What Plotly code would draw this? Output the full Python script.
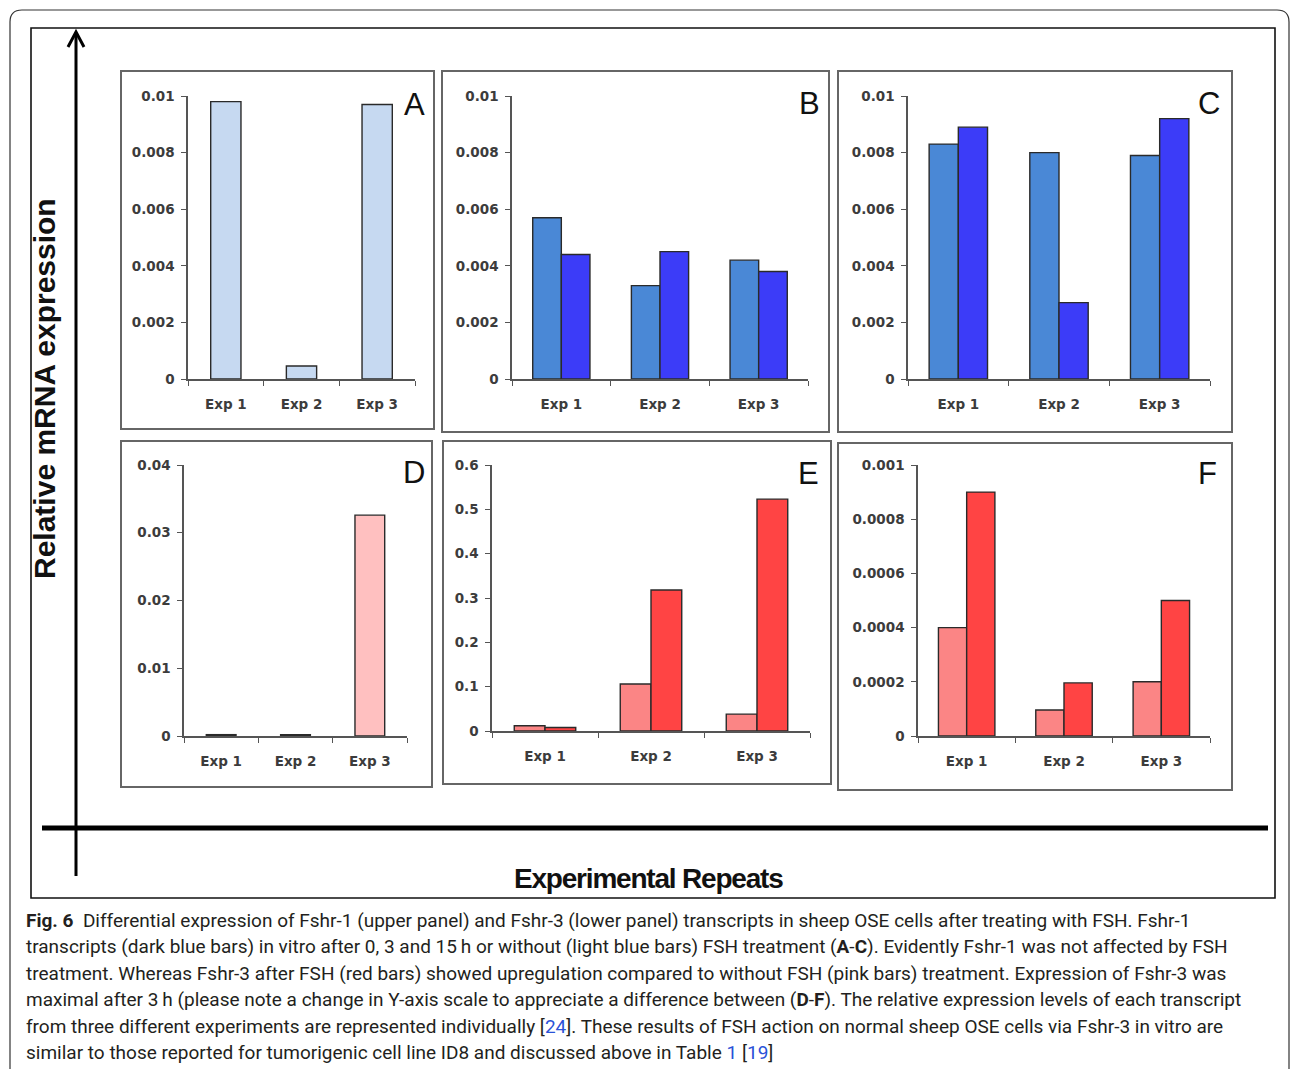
import plotly.graph_objects as go

W, H = 1290, 1069
# the page lays the figure out 8 px down with a 1053 px tall paper area
TOP_OFFSET = 8
PAPER_H = 1053

# ---- data -------------------------------------------------------------
experiments = ["Exp 1", "Exp 2", "Exp 3"]

# Fshr-1 (upper row)
a_without_fsh = [0.0098, 0.00046, 0.0097]
b_without_fsh = [0.0057, 0.0033, 0.0042]
b_with_fsh = [0.0044, 0.0045, 0.0038]
c_without_fsh = [0.0083, 0.0080, 0.0079]
c_with_fsh = [0.0089, 0.0027, 0.0092]

# Fshr-3 (lower row)
d_without_fsh = [0.0002, 0.0002, 0.0326]
e_without_fsh = [0.012, 0.106, 0.038]
e_with_fsh = [0.008, 0.318, 0.523]
f_without_fsh = [0.0004, 0.000096, 0.0002]
f_with_fsh = [0.0009, 0.000196, 0.0005]

ticks_upper = [0, 0.002, 0.004, 0.006, 0.008, 0.01]
ticks_upper_text = ["0", "0.002", "0.004", "0.006", "0.008", "0.01"]
ticks_d = [0, 0.01, 0.02, 0.03, 0.04]
ticks_d_text = ["0", "0.01", "0.02", "0.03", "0.04"]
ticks_e = [0, 0.1, 0.2, 0.3, 0.4, 0.5, 0.6]
ticks_e_text = ["0", "0.1", "0.2", "0.3", "0.4", "0.5", "0.6"]
ticks_f = [0, 0.0002, 0.0004, 0.0006, 0.0008, 0.001]
ticks_f_text = ["0", "0.0002", "0.0004", "0.0006", "0.0008", "0.001"]

panel_letters = ["A", "B", "C", "D", "E", "F"]

caption_lines = [
    "<b>Fig. 6</b>  Differential expression of Fshr-1 (upper panel) and Fshr-3 (lower panel) transcripts in sheep OSE cells after treating with FSH. Fshr-1",
    "transcripts (dark blue bars) in vitro after 0, 3 and 15\u2009h or without (light blue bars) FSH treatment (<b>A</b>-<b>C</b>). Evidently Fshr-1 was not affected by FSH",
    "treatment. Whereas Fshr-3 after FSH (red bars) showed upregulation compared to without FSH (pink bars) treatment. Expression of Fshr-3 was",
    "maximal after 3\u2009h (please note a change in Y-axis scale to appreciate a difference between (<b>D</b>-<b>F</b>). The relative expression levels of each transcript",
    "from three different experiments are represented individually [<span style='color:#2a52d8'>24</span>]. These results of FSH action on normal sheep OSE cells via Fshr-3 in vitro are",
    "similar to those reported for tumorigenic cell line ID8 and discussed above in Table <span style='color:#2a52d8'>1</span> [<span style='color:#2a52d8'>19</span>]",
]

# ---- styling ----------------------------------------------------------
LIGHT_BLUE_A = "#c6d9f1"
MID_BLUE = "#4a88d6"
DARK_BLUE = "#3c3cf8"
PINK_D = "#ffc0c0"
SALMON = "#fb8585"
RED = "#ff4444"
BAR_EDGE = "#2a2a2a"
AXIS_COL = "#555555"
TICK_FONT = dict(family="DejaVu Sans", size=13.5, color="#3c3c3c", weight="bold")


def px(x):
    return x / W


def py(y):
    return 1 - (y - TOP_OFFSET) / PAPER_H


# panel geometry: box (x0, y0, x1, y1), axes (xleft, xright, ybottom, ytop)
panels = [
    dict(box=(121, 71, 434, 429), ax=(188, 415, 379, 96), top=0.01,
         tv=ticks_upper, tt=ticks_upper_text, letter=(414, 105)),
    dict(box=(442, 71, 829, 432), ax=(512, 808, 379, 96), top=0.01,
         tv=ticks_upper, tt=ticks_upper_text, letter=(809, 103)),
    dict(box=(838, 71, 1232, 432), ax=(908, 1210, 379, 96), top=0.01,
         tv=ticks_upper, tt=ticks_upper_text, letter=(1209, 103)),
    dict(box=(121, 441, 432, 787), ax=(184, 407, 736, 465), top=0.04,
         tv=ticks_d, tt=ticks_d_text, letter=(414, 472)),
    dict(box=(443, 441, 831, 784), ax=(492, 810, 731, 465), top=0.6,
         tv=ticks_e, tt=ticks_e_text, letter=(808, 473)),
    dict(box=(838, 443, 1232, 790), ax=(918, 1210, 736, 465), top=0.001,
         tv=ticks_f, tt=ticks_f_text, letter=(1207, 473)),
]

# bars per panel: (values, colour, offset, width)
GW = 0.29
bars = [
    [(a_without_fsh, LIGHT_BLUE_A, -0.2, 0.4)],
    [(b_without_fsh, MID_BLUE, -GW, GW), (b_with_fsh, DARK_BLUE, 0, GW)],
    [(c_without_fsh, MID_BLUE, -GW, GW), (c_with_fsh, DARK_BLUE, 0, GW)],
    [(d_without_fsh, PINK_D, -0.2, 0.4)],
    [(e_without_fsh, SALMON, -GW, GW), (e_with_fsh, RED, 0, GW)],
    [(f_without_fsh, SALMON, -GW, GW), (f_with_fsh, RED, 0, GW)],
]

fig = go.Figure()
layout_axes = {}
shapes = []
annotations = []

for i, (p, series) in enumerate(zip(panels, bars), start=1):
    sfx = "" if i == 1 else str(i)
    xl, xr, yb, yt = p["ax"]
    for vals, col, off, wd in series:
        fig.add_trace(go.Bar(
            x=experiments, y=vals, xaxis="x" + sfx, yaxis="y" + sfx,
            marker=dict(color=col, line=dict(color=BAR_EDGE, width=1.4)),
            offset=off, width=wd, showlegend=False, hoverinfo="skip",
        ))
    layout_axes["xaxis" + sfx] = dict(
        domain=[px(xl), px(xr)], anchor="y" + sfx, type="category",
        categoryorder="array", categoryarray=experiments, range=[-0.5, 2.5],
        showline=True, linecolor=AXIS_COL, linewidth=1.5,
        ticks="outside", tickson="boundaries", ticklen=5, tickwidth=1.3,
        tickcolor=AXIS_COL, showgrid=False, zeroline=False,
        tickfont=TICK_FONT, ticklabelstandoff=12,
    )
    layout_axes["yaxis" + sfx] = dict(
        domain=[py(yb), py(yt)], anchor="x" + sfx, range=[0, p["top"]],
        tickvals=p["tv"], ticktext=p["tt"],
        showline=True, linecolor=AXIS_COL, linewidth=1.5,
        ticks="outside", ticklen=5, tickwidth=1.3, tickcolor=AXIS_COL,
        showgrid=False, zeroline=False, tickfont=TICK_FONT,
        ticklabelstandoff=4,
    )
    bx0, by0, bx1, by1 = p["box"]
    shapes.append(dict(type="rect", xref="paper", yref="paper",
                       x0=px(bx0), x1=px(bx1), y0=py(by1), y1=py(by0),
                       line=dict(color="#666666", width=2), layer="below"))
    lx, ly = p["letter"]
    annotations.append(dict(text=panel_letters[i - 1], xref="paper", yref="paper",
                            x=px(lx), y=py(ly), showarrow=False,
                            xanchor="center", yanchor="middle",
                            font=dict(family="Liberation Sans", size=31, color="#111111")))

# outer rounded frame
r = 12
outer = (f"M {px(10)},{py(1075)} L {px(10)},{py(10 + r)} "
         f"Q {px(10)},{py(10)} {px(10 + r)},{py(10)} "
         f"L {px(1289 - r)},{py(10)} Q {px(1289)},{py(10)} {px(1289)},{py(10 + r)} "
         f"L {px(1289)},{py(1075)}")
shapes.append(dict(type="path", xref="paper", yref="paper", path=outer,
                   line=dict(color="#333333", width=1.2)))

# inner frame
shapes.append(dict(type="rect", xref="paper", yref="paper",
                   x0=px(31), x1=px(1275), y0=py(898), y1=py(28),
                   line=dict(color="#111111", width=1.6)))

# big axis arrow (vertical) and baseline (horizontal)
shapes.append(dict(type="line", xref="paper", yref="paper",
                   x0=px(76), x1=px(76), y0=py(876), y1=py(34),
                   line=dict(color="#000000", width=3)))
arrow_head = (f"M {px(68)},{py(47)} L {px(76)},{py(32)} L {px(84)},{py(47)}")
shapes.append(dict(type="path", xref="paper", yref="paper", path=arrow_head,
                   line=dict(color="#000000", width=3)))
shapes.append(dict(type="line", xref="paper", yref="paper",
                   x0=px(42), x1=px(1268), y0=py(828), y1=py(828),
                   line=dict(color="#000000", width=5)))

annotations.append(dict(text="<b>Relative mRNA expression</b>", xref="paper", yref="paper",
                        x=px(44), y=py(389), showarrow=False, textangle=-90,
                        xanchor="center", yanchor="middle",
                        font=dict(family="Liberation Sans", size=30, color="#111111")))
annotations.append(dict(text="<span style='letter-spacing:-1.2px'><b>Experimental Repeats</b></span>",
                        xref="paper", yref="paper",
                        x=px(648), y=py(878), showarrow=False,
                        xanchor="center", yanchor="middle",
                        font=dict(family="Liberation Sans Narrow, Liberation Sans",
                                  size=28, color="#111111")))

caption_y = [920, 946, 973, 999, 1026, 1052]
for line, yy in zip(caption_lines, caption_y):
    annotations.append(dict(text=line, xref="paper", yref="paper",
                            x=px(24), y=py(yy), showarrow=False,
                            xanchor="left", yanchor="middle",
                            font=dict(family="Roboto", size=19, color="#231f20")))

fig.update_layout(
    width=W, height=H, margin=dict(l=0, r=0, t=0, b=0),
    paper_bgcolor="white", plot_bgcolor="rgba(0,0,0,0)",
    barmode="overlay", shapes=shapes, annotations=annotations,
    **layout_axes,
)

fig.write_html("out.html")
